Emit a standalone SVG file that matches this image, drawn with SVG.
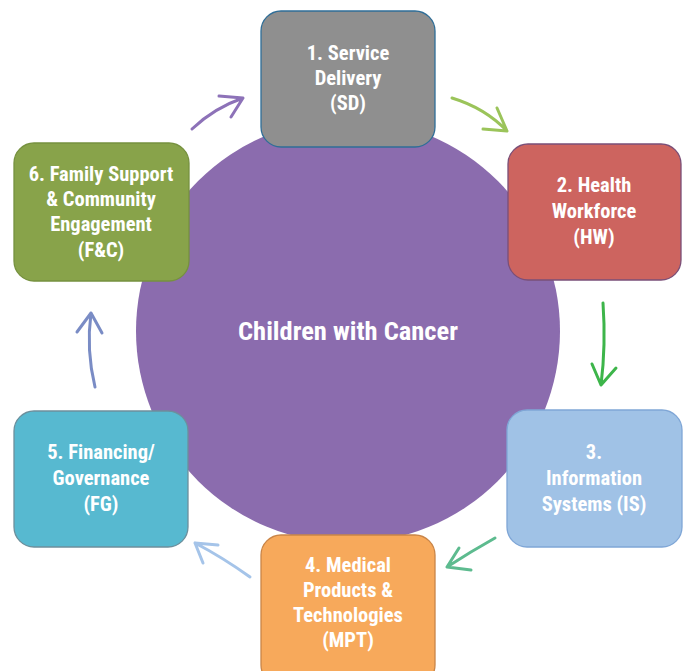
<svg xmlns="http://www.w3.org/2000/svg" width="690" height="671" viewBox="0 0 690 671">
<style>
.lbl{font-family:"Liberation Sans Narrow","Arial Narrow","Roboto Condensed",sans-serif;font-weight:bold;font-size:20.5px;fill:#ffffff;text-anchor:middle}
.box{stroke-width:1.3}
.arr{fill:none;stroke-width:3;stroke-linecap:round;stroke-linejoin:round}
</style>
<rect width="690" height="671" fill="#ffffff"/>
<g id="center">
<circle cx="348" cy="331" r="212" fill="#8b6cae"/>
<text x="348" y="340" class="lbl" style="font-size:26.5px">Children with Cancer</text>
</g>
<g id="sd">
<rect class="box" x="261" y="11" width="174" height="136" rx="20" fill="#8f8f8f" stroke="#2f6e98"/>
<text class="lbl" x="348" y="60">1. Service</text>
<text class="lbl" x="348" y="85">Delivery</text>
<text class="lbl" x="348" y="110">(SD)</text>
</g>
<g id="hw">
<rect class="box" x="508" y="144" width="173" height="136" rx="20" fill="#cd645f" stroke="#7a4f78"/>
<text class="lbl" x="594" y="192">2. Health</text>
<text class="lbl" x="594" y="218">Workforce</text>
<text class="lbl" x="594" y="244">(HW)</text>
</g>
<g id="is">
<rect class="box" x="507" y="410" width="175" height="137" rx="20" fill="#a0c2e6" stroke="#7fa6d6"/>
<text class="lbl" x="594" y="459">3.</text>
<text class="lbl" x="594" y="485">Information</text>
<text class="lbl" x="594" y="511">Systems (IS)</text>
</g>
<g id="mpt">
<rect class="box" x="261" y="535" width="174" height="150" rx="20" fill="#f7a95b" stroke="#c98548"/>
<text class="lbl" x="348" y="572">4. Medical</text>
<text class="lbl" x="348" y="597">Products &amp;</text>
<text class="lbl" x="348" y="622">Technologies</text>
<text class="lbl" x="348" y="647">(MPT)</text>
</g>
<g id="fg">
<rect class="box" x="14" y="411" width="174" height="136" rx="20" fill="#57b9d0" stroke="#6d8f9c"/>
<text class="lbl" x="101" y="459">5. Financing/</text>
<text class="lbl" x="101" y="485">Governance</text>
<text class="lbl" x="101" y="511">(FG)</text>
</g>
<g id="fc">
<rect class="box" x="14" y="143" width="175" height="138" rx="20" fill="#88a34a" stroke="#76913f"/>
<text class="lbl" x="101" y="181">6. Family Support</text>
<text class="lbl" x="101" y="206">&amp; Community</text>
<text class="lbl" x="101" y="231">Engagement</text>
<text class="lbl" x="101" y="257">(F&amp;C)</text>
</g>
<g id="connectors">
<path class="arr" stroke="#8d72b8" d="M192,129 Q214,108 243,98 M219,96 L243,98 L231,117"/>
<path class="arr" stroke="#9bc45a" d="M452,98 Q485,108 507,131 M497,108 L507,131 L483,129"/>
<path class="arr" stroke="#3db54a" d="M603,303 Q606,345 601,385 M592,364 L601,385 L616,368"/>
<path class="arr" stroke="#5dbb8f" d="M495,538 Q470,552 447,567 M459,548 L447,567 L471,570"/>
<path class="arr" stroke="#a5c4e9" d="M250,577 Q222,557 195,543 M218,545 L195,543 L203,563"/>
<path class="arr" stroke="#7a8cc5" d="M95,387 Q86,350 91,313 M77,332 L91,313 L102,333"/>
</g>
</svg>
